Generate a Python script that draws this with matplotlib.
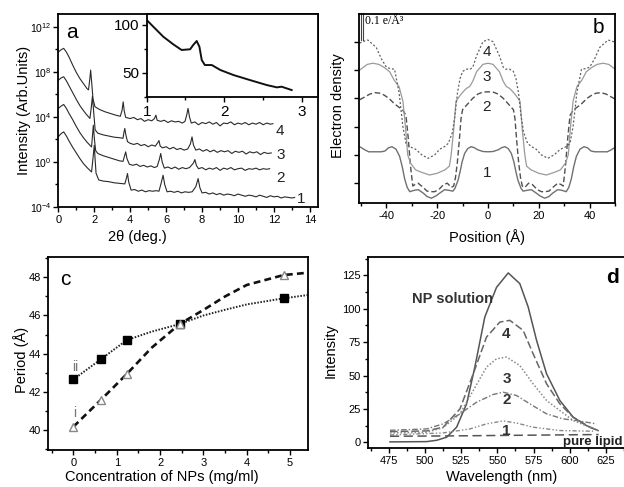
import numpy as np
import matplotlib
matplotlib.use("Agg")
from matplotlib import pyplot as plt
from matplotlib.ticker import MultipleLocator, FixedLocator, NullFormatter

plt.rcParams['font.family'] = ['Liberation Sans', 'DejaVu Sans']
plt.rcParams['axes.unicode_minus'] = False
plt.rcParams['mathtext.fontset'] = 'custom'
plt.rcParams['mathtext.rm'] = 'Liberation Sans'
plt.rcParams['mathtext.it'] = 'Liberation Sans:italic'

# ---------------- data ----------------
# (a) XRD curves, x = 2theta (deg), y = log10 intensity
x_a4 = [0.0, 0.15, 0.3, 0.45, 0.6, 0.8, 1.0, 1.2, 1.4, 1.6, 1.68, 1.75, 1.8, 1.86, 1.93, 2.04, 2.3, 2.6, 2.9,
        3.2, 3.45, 3.55, 3.61, 3.67, 3.75, 4.0, 4.2, 4.4, 4.6, 4.8, 5.0, 5.2, 5.35, 5.43, 5.5, 5.7, 5.9, 6.1,
        6.3, 6.5, 6.7, 6.9, 7.05, 7.15, 7.22, 7.3, 7.4, 7.6, 7.8, 8.0, 8.2, 8.4, 8.6, 8.8, 9.0, 9.2, 9.4, 9.6,
        9.8, 10.0, 10.2, 10.4, 10.6, 10.8, 11.0, 11.2, 11.4, 11.6, 11.8, 11.94]
y_a4 = [9.75, 9.95, 10.08, 9.75, 9.3, 8.6, 7.95, 7.4, 6.95, 6.5, 6.4, 7.3, 8.15, 7.0, 5.6, 4.9, 4.65, 4.45, 4.3,
        4.15, 4.05, 4.6, 5.33, 4.5, 3.95, 3.85, 3.95, 3.75, 3.85, 3.6, 3.75, 3.65, 3.85, 4.15, 3.7, 3.6, 3.7, 3.5,
        3.65, 3.55, 3.6, 3.45, 3.6, 4.2, 4.75, 4.0, 3.45, 3.55, 3.3, 3.5, 3.4, 3.55, 3.35, 3.5, 3.2, 3.45, 3.4, 3.55,
        3.3, 3.45, 3.35, 3.5, 3.3, 3.45, 3.35, 3.5, 3.3, 3.45, 3.35, 3.4]
x_a3 = [0.0, 0.15, 0.3, 0.45, 0.6, 0.8, 1.0, 1.2, 1.4, 1.6, 1.76, 1.84, 1.9, 1.97, 2.05, 2.2, 2.5, 2.8, 3.1,
        3.4, 3.6, 3.65, 3.7, 3.76, 3.85, 4.0, 4.2, 4.4, 4.6, 4.8, 5.0, 5.2, 5.4, 5.55, 5.6, 5.67, 5.8, 6.0, 6.2,
        6.4, 6.6, 6.8, 7.0, 7.2, 7.35, 7.44, 7.52, 7.65, 7.85, 8.05, 8.25, 8.45, 8.65, 8.85, 9.05, 9.25, 9.45,
        9.65, 9.85, 10.05, 10.25, 10.45, 10.65, 10.85, 11.05, 11.25, 11.45, 11.65, 11.85]
y_a3 = [7.25, 7.45, 7.56, 7.2, 6.75, 6.15, 5.55, 5.0, 4.55, 4.15, 3.86, 4.9, 5.84, 4.4, 2.85, 2.55, 2.4, 2.3, 2.2,
        2.15, 2.1, 2.6, 2.97, 2.4, 1.8, 1.65, 1.55, 1.65, 1.45, 1.55, 1.35, 1.5, 1.4, 1.75, 1.9, 1.4, 1.25, 1.35,
        1.15, 1.3, 1.1, 1.2, 1.05, 1.15, 1.6, 2.22, 1.5, 1.05, 1.15, 0.95, 1.1, 0.9, 1.05, 0.85, 1.0, 0.9, 1.0,
        0.75, 0.95, 0.85, 0.95, 0.7, 0.9, 0.8, 0.9, 0.65, 0.85, 0.75, 0.8]
x_a2 = [0.0, 0.15, 0.3, 0.45, 0.6, 0.8, 1.0, 1.2, 1.4, 1.6, 1.85, 1.9, 1.95, 2.01, 2.08, 2.2, 2.5, 2.8, 3.1,
        3.4, 3.6, 3.68, 3.75, 3.82, 3.95, 4.15, 4.35, 4.55, 4.75, 4.95, 5.15, 5.35, 5.5, 5.62, 5.7, 5.78, 5.9,
        6.1, 6.3, 6.5, 6.7, 6.9, 7.1, 7.3, 7.52, 7.6, 7.68, 7.8, 8.0, 8.2, 8.4, 8.6, 8.8, 9.0, 9.2, 9.4, 9.6,
        9.8, 10.0, 10.2, 10.4, 10.6, 10.8, 11.0, 11.2, 11.4, 11.6, 11.76]
y_a2 = [4.75, 4.95, 5.1, 4.75, 4.3, 3.75, 3.15, 2.6, 2.15, 1.75, 1.33, 2.3, 3.26, 2.0, 1.0, 0.75, 0.55, 0.4, 0.25,
        0.1, 0.05, 0.5, 0.89, 0.3, -0.2, -0.3, -0.2, -0.4, -0.3, -0.45, -0.35, -0.5, -0.4, 0.2, 0.75, 0.0, -0.55,
        -0.45, -0.6, -0.45, -0.65, -0.5, -0.6, -0.5, -0.1, 0.21, -0.3, -0.6, -0.5, -0.7, -0.55, -0.65, -0.5, -0.75,
        -0.55, -0.65, -0.5, -0.7, -0.6, -0.55, -0.75, -0.6, -0.65, -0.55, -0.7, -0.6, -0.65, -0.6]
x_a1 = [0.0, 0.15, 0.3, 0.45, 0.6, 0.8, 1.0, 1.2, 1.4, 1.6, 1.85, 1.93, 2.0, 2.05, 2.1, 2.25, 2.5, 2.8, 3.1,
        3.4, 3.7, 3.78, 3.85, 3.92, 4.05, 4.25, 4.45, 4.65, 4.85, 5.05, 5.25, 5.45, 5.6, 5.72, 5.83, 5.92, 6.05,
        6.25, 6.45, 6.65, 6.85, 7.05, 7.25, 7.45, 7.65, 7.78, 7.88, 8.0, 8.2, 8.4, 8.6, 8.8, 9.0, 9.2, 9.4, 9.6,
        9.8, 10.0, 10.2, 10.4, 10.6, 10.8, 11.0, 11.2, 11.4, 11.6, 11.8, 12.0, 12.2, 12.4, 12.6, 12.8, 13.0, 13.15]
y_a1 = [2.25, 2.5, 2.67, 2.3, 1.85, 1.3, 0.8, 0.3, -0.15, -0.5, -0.89, 0.3, 1.48, 0.2, -1.0, -1.6, -1.7, -1.75,
        -1.85, -1.9, -1.95, -1.5, -1.03, -1.8, -2.5, -2.45, -2.6, -2.5, -2.65, -2.55, -2.6, -2.55, -2.6, -1.9,
        -1.18, -2.0, -2.65, -2.6, -2.7, -2.6, -2.75, -2.65, -2.7, -2.65, -2.2, -1.48, -2.3, -2.75, -2.7, -2.85,
        -2.75, -2.9, -2.8, -2.95, -2.85, -2.9, -3.0, -2.85, -2.95, -3.05, -2.95, -3.0, -3.1, -2.95, -3.05, -3.15,
        -3.0, -3.1, -3.05, -3.2, -3.1, -3.15, -3.2, -3.15]
# (a) inset
x_in = [1.0, 1.085, 1.214, 1.343, 1.45, 1.56, 1.6, 1.645, 1.68, 1.71, 1.75, 1.84, 1.95, 2.12, 2.33, 2.55,
        2.68, 2.74, 2.87]
y_in = [105.2, 98.2, 87.7, 79.7, 73.8, 74.5, 79.0, 83.2, 77.2, 63.3, 58.0, 58.0, 52.8, 47.5, 42.3, 37.0,
        34.6, 35.3, 31.8]

# (b) electron density profiles, half profiles (x >= 0), units of 0.1 e/A^3
x_b1 = [0, 2, 4, 5.5, 6.7, 8, 9.2, 10.2, 11, 11.8, 13, 13.8, 15.5, 17.1, 19, 20.5, 22.3, 24, 25.5, 27.4,
        29, 30.8, 31.8, 32.8, 33.8, 34.8, 36.2, 37.8, 39.2, 40.5, 42, 44.5, 47, 48.5, 50.5]
y_b1 = [1.11, 1.12, 1.18, 1.26, 1.29, 1.22, 1.05, 0.75, 0.4, 0.1, -0.18, -0.28, -0.25, -0.23, -0.35, -0.45,
        -0.53, -0.47, -0.35, -0.23, -0.25, -0.3, -0.15, 0.15, 0.6, 0.95, 1.2, 1.29, 1.25, 1.14, 1.11, 1.11, 1.11,
        1.18, 1.29]
x_b2 = [0, 2, 4, 6, 7.5, 9, 10, 10.6, 11.3, 12.1, 12.8, 13.5, 14.5, 16, 17.5, 19.3, 21, 22.5, 24, 25.5,
        27.5, 28.8, 29.6, 30.5, 31.4, 32.3, 33.6, 35, 37, 39, 41, 42.5, 44.5, 46.5, 48.5, 50.5]
y_b2 = [3.23, 3.22, 3.15, 3.0, 2.85, 2.7, 2.6, 2.3, 1.5, 0.7, 0.2, -0.1, -0.15, 0.0, -0.05, -0.22, -0.3, -0.3,
        -0.28, -0.15, 0.0, -0.05, -0.1, 0.6, 1.6, 2.4, 2.59, 2.68, 2.82, 3.0, 3.12, 3.18, 3.2, 3.15, 3.05, 2.95]
x_b3 = [0, 2, 4.5, 6, 7.2, 8.5, 9.8, 11, 12.6, 13.5, 14.5, 15.2, 17, 20, 23, 26, 28.5, 30.5, 31.6, 32.5,
        33.5, 35, 37, 38.7, 41, 43, 45.3, 47.5, 50.5]
y_b3 = [4.24, 4.2, 3.94, 3.6, 3.42, 3.35, 3.23, 3.1, 2.9, 1.9, 1.0, 0.6, 0.47, 0.35, 0.29, 0.38, 0.47, 0.71,
        1.0, 2.0, 2.9, 3.41, 3.65, 3.94, 4.1, 4.2, 4.24, 4.2, 4.0]
x_b4 = [0, 2, 4.5, 6, 7, 8.5, 10, 11, 12, 13, 14, 15.6, 17, 19, 21, 23.6, 26, 28.5, 31, 32.3, 33.5, 35,
        36.8, 38.5, 40, 42, 44, 47.3, 49.5, 50.5]
y_b4 = [5.08, 5.0, 4.5, 4.1, 4.03, 4.03, 3.95, 3.7, 3.2, 2.4, 1.8, 1.41, 1.3, 1.2, 1.0, 0.88, 1.0, 1.2, 1.3,
        1.41, 2.0, 3.2, 4.03, 4.05, 4.1, 4.4, 4.8, 5.06, 5.0, 4.95]

# (c) period vs concentration
conc = [0.0, 0.63, 1.23, 2.45, 4.85]
period_i = [40.17, 41.57, 42.93, 45.55, 48.12]
period_ii = [42.65, 43.7, 44.71, 45.55, 46.9]
fit_x = [0.0, 0.63, 1.23, 1.8, 2.45, 3.0, 3.5, 4.0, 4.85, 5.4]
fit_i = [40.17, 41.57, 42.93, 44.3, 45.55, 46.29, 47.0, 47.6, 48.12, 48.24]
fit_ii = [42.65, 43.7, 44.71, 45.15, 45.55, 46.0, 46.3, 46.58, 46.9, 47.07]

# (d) fluorescence spectra
wl_np = [475.7, 501, 508, 514.9, 521.8, 528.7, 534.4, 541.3, 549.4, 557.5, 565.5, 571.3, 577.1, 584, 593.2,
         602.4, 611.6, 619.6]
i_np = [0.3, 0.5, 1.5, 3.8, 11.3, 28.8, 56.3, 93.8, 116, 126.8, 118.8, 101.3, 76.3, 51.3, 31.3, 18.8, 12.5, 8.8]
wl_4 = [475.7, 501, 512.5, 524.1, 533.3, 542.5, 551.7, 558.6, 567.8, 574.7, 584, 593.2, 602.4, 613.9, 619.6]
i_4 = [8, 8.5, 11.3, 25, 51.3, 78.8, 90, 91.3, 83.8, 66.3, 43.8, 28.8, 18.8, 11.3, 8.8]
wl_3 = [475.7, 501, 512.5, 524.1, 533.3, 542.5, 549.4, 556.3, 565.5, 574.7, 584, 593.2, 602.4, 613.9, 619.6]
i_3 = [7, 7.5, 11, 21.3, 38.8, 56.3, 62.5, 63.8, 57.5, 43.8, 31.3, 23.8, 16.3, 11.3, 8.8]
wl_2 = [475.7, 501, 512.5, 524.1, 535.6, 547.1, 554, 563.3, 572.4, 584, 595.5, 604.7, 618.5]
i_2 = [9, 10, 13.8, 21.3, 30, 35.8, 37.5, 35, 28.8, 21.3, 17.5, 16.3, 13.8]
wl_1 = [475.7, 512.5, 531, 542.5, 554, 563.3, 574.7, 593.2, 616.2]
i_1 = [5.5, 7, 10, 13.8, 16, 14.4, 11.3, 8.8, 8.3]
wl_lip = [475.7, 520, 560, 600, 620]
i_lip = [4.5, 4.8, 5.2, 5.6, 5.8]

# ---------------- figure ----------------
W, H = 624, 487
fig = plt.figure(figsize=(W / 100, H / 100), dpi=100)


def px_axes(l, t, r, b):
    return fig.add_axes([l / W, 1 - b / H, (r - l) / W, (b - t) / H])


def style(ax, size=8):
    for s in ax.spines.values():
        s.set_linewidth(1.3)
    ax.tick_params(which='both', direction='out', width=1, labelsize=size, pad=2)
    ax.tick_params(which='major', length=3.5)
    ax.tick_params(which='minor', length=2)


def ftext(x, y, s, **kw):
    fig.text(x / W, 1 - y / H, s, ha='center', va='center', **kw)


# ---- (a) ----
ax = px_axes(58.3, 14, 318, 207)
for xs, ys in [(x_a1, y_a1), (x_a2, y_a2), (x_a3, y_a3), (x_a4, y_a4)]:
    ax.plot(xs, 10 ** np.array(ys), color='#2a2a2a', lw=0.8)
ax.set_yscale('log')
ax.set_xlim(0, 14.45)
ax.set_ylim(1e-4, 10 ** 13.13)
ax.xaxis.set_major_locator(MultipleLocator(2))
ax.xaxis.set_minor_locator(MultipleLocator(1))
ax.yaxis.set_major_locator(FixedLocator([1e-4, 1e0, 1e4, 1e8, 1e12]))
ax.yaxis.set_minor_locator(FixedLocator([1e-2, 1e2, 1e6, 1e10]))
ax.yaxis.set_minor_formatter(NullFormatter())
ax.set_yticklabels([r'$10^{-4}$', r'$10^{0}$', r'$10^{4}$', r'$10^{8}$', r'$10^{12}$'])
style(ax)
ax.tick_params(axis='y', labelsize=7.5, pad=1.5)
ax.text(0.76, 10 ** 11.5, 'a', fontsize=15, ha='center', va='center')
for lab, xx, yy in [('4', 12.35, 2.76), ('3', 12.35, 0.6), ('2', 12.35, -1.39), ('1', 13.5, -3.25)]:
    ax.text(xx, 10 ** yy, lab, fontsize=11, ha='center', va='center', color='#222')
ftext(137, 237, '2θ (deg.)', fontsize=10.5)
ftext(24, 110, 'Intensity (Arb.Units)', fontsize=10.5, rotation=90)

axi = px_axes(146.7, 14, 318, 97)
axi.plot(x_in, y_in, color='#111', lw=1.4)
axi.set_xlim(1, 3.21)
axi.set_ylim(24.5, 111.5)
axi.xaxis.set_major_locator(MultipleLocator(1))
axi.xaxis.set_minor_locator(MultipleLocator(0.5))
axi.yaxis.set_major_locator(MultipleLocator(50))
axi.yaxis.set_minor_locator(MultipleLocator(25))
style(axi, size=11)

# ---- (b) ----
ax = px_axes(358.7, 14, 615, 203)


def mirror(x, y):
    x = np.asarray(x, float)
    y = np.asarray(y, float)
    return np.concatenate([-x[:0:-1], x]), np.concatenate([y[:0:-1], y])


xb, yb = mirror(x_b1, y_b1)
ax.plot(xb, yb, color='#707070', lw=1.0)
xb, yb = mirror(x_b2, y_b2)
ax.plot(xb, yb, color='#505050', lw=1.0, dashes=(4, 2))
xb, yb = mirror(x_b3, y_b3)
ax.plot(xb, yb, color='#9a9a9a', lw=0.9)
xb, yb = mirror(x_b4, y_b4)
ax.plot(xb, yb, color='#606060', lw=0.9, dashes=(1.6, 1.6))
ax.set_xlim(-50.9, 50)
ax.set_ylim(-0.7, 5.98)
ax.xaxis.set_major_locator(MultipleLocator(20))
ax.xaxis.set_minor_locator(MultipleLocator(10))
ax.yaxis.set_major_locator(MultipleLocator(1))
ax.set_yticklabels([])
style(ax)
ax.plot([-49.9, -49.9], [5.05, 6.0], color='#444', lw=0.8, clip_on=False)
ax.plot([-49.2, -49.2], [5.05, 6.0], color='#444', lw=0.8, clip_on=False)
ax.text(-48.6, 5.72, '0.1 e/Å³', fontsize=8.5, family=['Liberation Serif', 'DejaVu Serif'],
        ha='left', va='center')
ax.text(43.3, 5.52, 'b', fontsize=15, ha='center', va='center')
for lab, yy in [('4', 4.65), ('3', 3.76), ('2', 2.7), ('1', 0.35)]:
    ax.text(-0.5, yy, lab, fontsize=11, ha='center', va='center', color='#222')
ftext(487, 237, 'Position (Å)', fontsize=10.5)
ftext(338, 106, 'Electron density', fontsize=10.5, rotation=90)

# ---- (c) ----
ax = px_axes(48.3, 257.3, 308.3, 450)
ax.plot(fit_x, fit_i, color='#111', lw=1.9, dashes=(2.6, 1.6))
ax.plot(fit_x, fit_ii, color='#222', lw=1.4, dashes=(0.8, 0.8))
ax.plot(conc, period_ii, 's', color='black', ms=5.5)
ax.plot(conc, period_i, '^', mfc='white', mec='#888', mew=1.0, ms=6)
ax.set_xlim(-0.58, 5.42)
ax.set_ylim(38.95, 49.05)
ax.xaxis.set_major_locator(MultipleLocator(1))
ax.xaxis.set_minor_locator(MultipleLocator(0.5))
ax.yaxis.set_major_locator(MultipleLocator(2))
ax.yaxis.set_minor_locator(MultipleLocator(1))
style(ax)
ax.text(-0.19, 47.9, 'c', fontsize=15, ha='center', va='center')
ax.text(0.04, 43.3, 'ii', fontsize=10, ha='center', va='center', color='#777')
ax.text(0.04, 40.9, 'i', fontsize=10, ha='center', va='center', color='#777')
ftext(162, 477, 'Concentration of NPs (mg/ml)', fontsize=10.5)
ftext(21, 360, 'Period (Å)', fontsize=10.5, rotation=90)

# ---- (d) ----
ax = px_axes(368, 257.3, 627.5, 448.3)
ax.plot(wl_np, i_np, color='#555', lw=1.1)
ax.plot(wl_4, i_4, color='#666', lw=1.1, dashes=(5, 2))
ax.plot(wl_3, i_3, color='#888', lw=1.1, dashes=(1, 1.3))
ax.plot(wl_2, i_2, color='#777', lw=1.0, dashes=(4, 1.5, 1, 1.5))
ax.plot(wl_1, i_1, color='#888', lw=1.0, dashes=(3, 1.5, 1, 1.5, 1, 1.5))
ax.plot(wl_lip, i_lip, color='#555', lw=1.1, dashes=(6, 3))
ax.set_xlim(460.5, 640)
ax.set_ylim(-4.5, 138.5)
ax.xaxis.set_major_locator(MultipleLocator(25))
ax.xaxis.set_minor_locator(MultipleLocator(12.5))
ax.yaxis.set_major_locator(MultipleLocator(25))
ax.yaxis.set_minor_locator(MultipleLocator(12.5))
style(ax)
ax.text(518.9, 107.6, 'NP solution', fontsize=10.5, fontweight='bold', ha='center', va='center', color='#333')
for lab, yy in [('4', 81.3), ('3', 47.5), ('2', 31.3), ('1', 8.8)]:
    ax.text(556.3, yy, lab, fontsize=11, fontweight='bold', ha='center', va='center', color='#333')
ax.text(595.4, 0.5, 'pure lipid', fontsize=9.5, fontweight='bold', ha='left', va='center', color='#222')
ax.text(629.5, 123.5, 'd', fontsize=15, fontweight='bold', ha='center', va='center')
ftext(502, 477, 'Wavelength (nm)', fontsize=10.5)
ftext(331, 351, 'Intensity', fontsize=10.5, rotation=90)

fig.savefig('out.png', dpi=100)
